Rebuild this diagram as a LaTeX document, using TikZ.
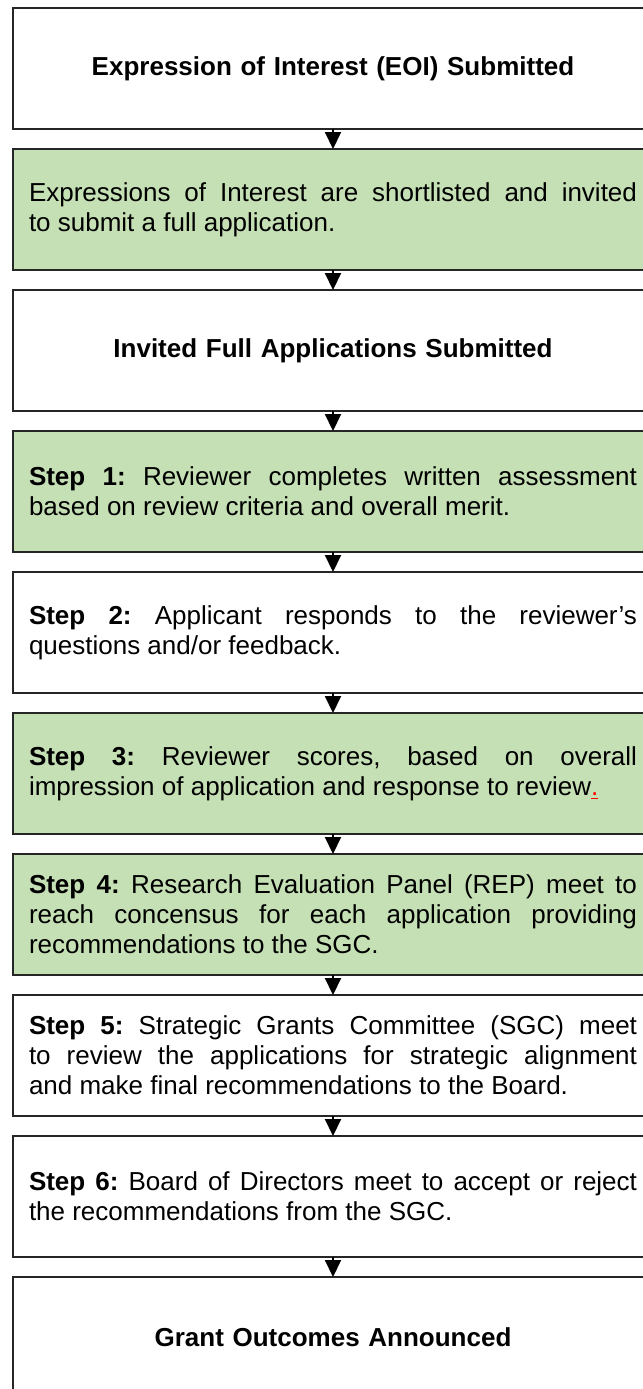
\documentclass[tikz,border=0pt]{standalone}
\usepackage{fontspec}
\setmainfont{Liberation Sans}
\usepackage{xcolor}
\usetikzlibrary{arrows.meta,positioning}
\definecolor{stepgreen}{HTML}{C5E0B4}
\definecolor{edgegray}{HTML}{262626}
\tolerance=10000
\frenchspacing

\begin{document}
\begin{tikzpicture}[
    x=0.5pt, y=-0.5pt,
    font=\fontsize{13pt}{15pt}\selectfont,
    >={Triangle[length=8.5pt, width=8pt]},
    stage/.style={draw=edgegray, line width=0.7pt, fill=#1, text width=304pt,
                  minimum height=60.5pt, inner xsep=8pt, inner ysep=2pt, outer sep=0pt},
    stage/.default=white,
    title/.style={stage, align=center, font=\fontsize{13pt}{15pt}\selectfont\bfseries},
    stepbox/.style={stage=#1, align=justify},
    stepbox/.default=white,
    flow/.style={->, line width=1pt, black},
    node distance=10pt,
  ]
    % --- page frame (boxes run past the right and bottom edge) ------------
    \useasboundingbox (0,0) rectangle (643,1389);
    \clip (0,0) rectangle (643,1389);

    % --- application stages ------------------------------------------------
    \node[title, anchor=north] (eoi) at (333,8)
      {Expression of Interest (EOI) Submitted};
    \node[stepbox=stepgreen, below=of eoi] (shortlist)
      {Expressions of Interest are shortlisted and invited\linebreak
       to submit a full application.};
    \node[title, below=of shortlist] (full)
      {Invited Full Applications Submitted};

    % --- review steps ------------------------------------------------------
    \node[stepbox=stepgreen, below=of full] (step1)
      {\textbf{Step 1:} Reviewer completes written assessment\linebreak
       based on review criteria and overall merit.};
    \node[stepbox, below=of step1] (step2)
      {\textbf{Step 2:} Applicant responds to the reviewer's\linebreak
       questions and/or feedback.};
    \node[stepbox=stepgreen, below=of step2] (step3)
      {\textbf{Step 3:} Reviewer scores, based on overall\linebreak
       impression of application and response to review\textcolor{red}{\underline{.}}};
    \node[stepbox=stepgreen, below=of step3] (step4)
      {\textbf{Step 4:} Research Evaluation Panel (REP) meet to\linebreak
       reach concensus for each application providing\linebreak
       recommendations to the SGC.};
    \node[stepbox, below=of step4] (step5)
      {\textbf{Step 5:} Strategic Grants Committee (SGC) meet\linebreak
       to review the applications for strategic alignment\linebreak
       and make final recommendations to the Board.};
    \node[stepbox, below=of step5] (step6)
      {\textbf{Step 6:} Board of Directors meet to accept or reject\linebreak
       the recommendations from the SGC.};
    \node[title, below=of step6] (outcome)
      {Grant Outcomes Announced};

    % --- arrows ------------------------------------------------------------
    \foreach \from/\to in {eoi/shortlist, shortlist/full, full/step1, step1/step2,
                           step2/step3, step3/step4, step4/step5, step5/step6,
                           step6/outcome}
      \draw[flow] (\from) -- (\to);
\end{tikzpicture}
\end{document}
